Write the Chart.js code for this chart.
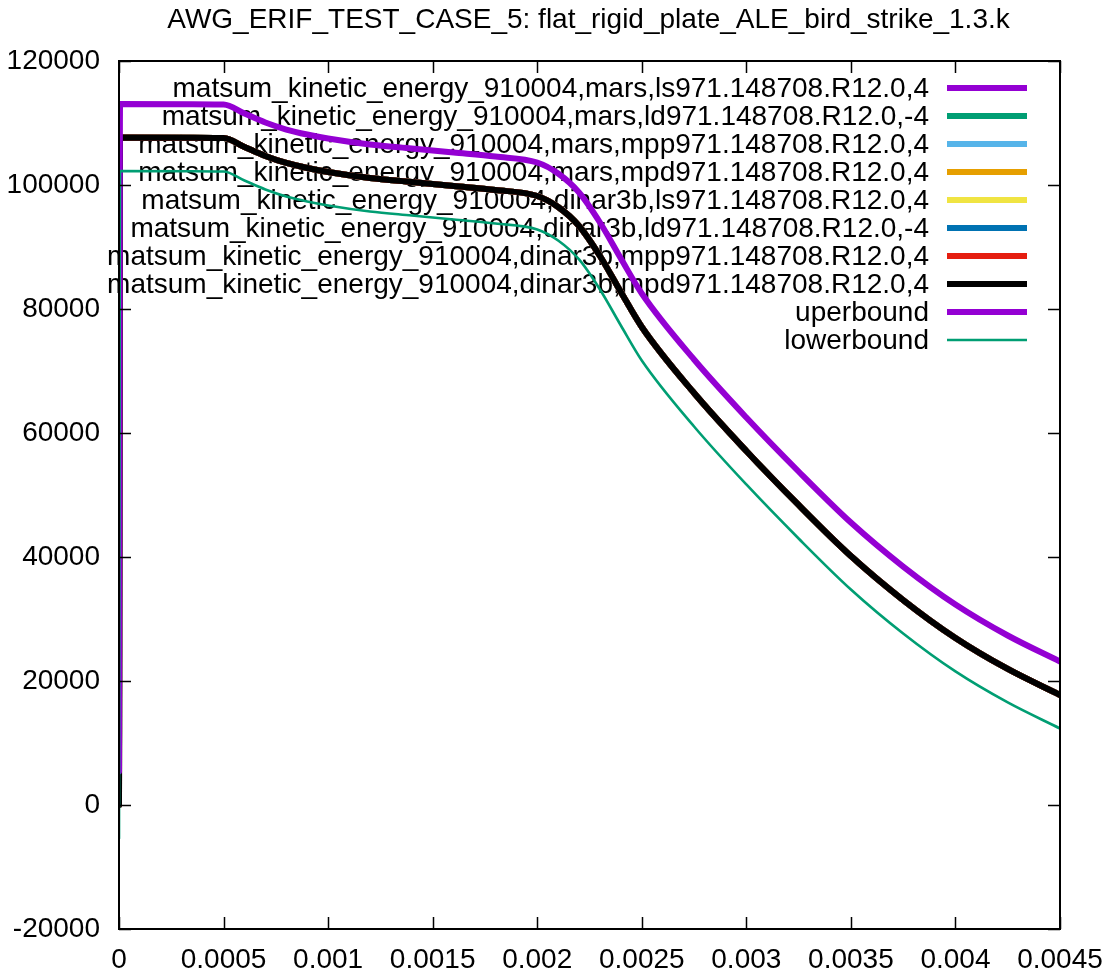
<!DOCTYPE html>
<html>
<head>
<meta charset="utf-8">
<style>
  html, body { margin: 0; padding: 0; background: #ffffff; }
  canvas { display: block; }
</style>
<script src="https://cdn.jsdelivr.net/npm/chart.js@4.4.1/dist/chart.umd.min.js"></script>
</head>
<body>
<canvas id="c" width="1114" height="972"></canvas>
<script>
// Kinetic energy history of the bird-strike run, with its tolerance band
const chartTitle = 'AWG_ERIF_TEST_CASE_5: flat_rigid_plate_ALE_bird_strike_1.3.k';

const time = [0, 0.000005, 0.0005, 0.0006, 0.0007, 0.0008, 0.0009, 0.001, 0.0012, 0.0014,
  0.0016, 0.0018, 0.002, 0.0021, 0.0022, 0.0023, 0.0024, 0.0025, 0.00275, 0.003,
  0.00325, 0.0035, 0.00375, 0.004, 0.00425, 0.0045];

const kineticEnergy = [0, 107660, 107580, 106130, 104680, 103550, 102740, 102100, 101130, 100480,
  99840, 99190, 98230, 96450, 93390, 88550, 82740, 77100, 66450, 57100,
  48390, 40160, 33060, 26940, 21940, 17740];

const upperBound = [5400, 113060, 112980, 111530, 110080, 108950, 108140, 107500, 106530, 105880,
  105240, 104590, 103630, 101850, 98790, 93950, 88140, 82500, 71850, 62500,
  53790, 45560, 38460, 32340, 27340, 23140];

const lowerBound = [-5400, 102260, 102180, 100730, 99280, 98150, 97340, 96700, 95730, 95080,
  94440, 93790, 92830, 91050, 87990, 83150, 77340, 71700, 61050, 51700,
  42990, 34760, 27660, 21540, 16540, 12340];

const seriesLabels = [
  'matsum_kinetic_energy_910004,mars,ls971.148708.R12.0,4',
  'matsum_kinetic_energy_910004,mars,ld971.148708.R12.0,-4',
  'matsum_kinetic_energy_910004,mars,mpp971.148708.R12.0,4',
  'matsum_kinetic_energy_910004,mars,mpd971.148708.R12.0,4',
  'matsum_kinetic_energy_910004,dinar3b,ls971.148708.R12.0,4',
  'matsum_kinetic_energy_910004,dinar3b,ld971.148708.R12.0,-4',
  'matsum_kinetic_energy_910004,dinar3b,mpp971.148708.R12.0,4',
  'matsum_kinetic_energy_910004,dinar3b,mpd971.148708.R12.0,4'
];
const seriesColors = ['#9400d3', '#009e73', '#56b4e9', '#e69f00', '#f0e442', '#0072b2', '#e51e10', '#000000'];
const boundLabels = ['uperbound', 'lowerbound'];
const boundColors = ['#9400d3', '#009e73'];

const xTicks = [0, 0.0005, 0.001, 0.0015, 0.002, 0.0025, 0.003, 0.0035, 0.004, 0.0045];
const xTickLabels = ['0', '0.0005', '0.001', '0.0015', '0.002', '0.0025', '0.003', '0.0035', '0.004', '0.0045'];
const yTicks = [-20000, 0, 20000, 40000, 60000, 80000, 100000, 120000];
const yTickLabels = ['-20000', '0', '20000', '40000', '60000', '80000', '100000', '120000'];

const FONT = '"Liberation Sans", Arial, Helvetica, sans-serif';
const FONT_SIZE = 28;
const THICK = 6;
const THIN = 2.6;

function toPoints(values) {
  return time.map((t, k) => ({ x: t, y: values[k] }));
}

const datasets = [];
seriesLabels.forEach((label, i) => {
  datasets.push({
    label: label,
    data: toPoints(kineticEnergy),
    borderColor: seriesColors[i],
    borderWidth: THICK,
    order: 20 - i
  });
});
datasets.push({ label: boundLabels[0], data: toPoints(upperBound), borderColor: boundColors[0], borderWidth: THICK, order: 20 - 8 });
datasets.push({ label: boundLabels[1], data: toPoints(lowerBound), borderColor: boundColors[1], borderWidth: THIN, order: 20 - 9 });

// gnuplot-style frame: key inside top right, boxed border with inward mirrored ticks, title
const frame = {
  id: 'frame',
  beforeDatasetsDraw(chart) {
    const ctx = chart.ctx;
    const area = chart.chartArea;
    ctx.save();
    ctx.font = FONT_SIZE + 'px ' + FONT;
    ctx.textAlign = 'right';
    ctx.textBaseline = 'middle';
    const textRight = area.right - 131;
    const sampleL = area.right - 113;
    const sampleR = area.right - 33;
    chart.data.datasets.forEach((ds, i) => {
      const y = area.top + 27 + i * 28;
      ctx.fillStyle = '#000000';
      ctx.fillText(ds.label, textRight, y + 1);
      ctx.strokeStyle = ds.borderColor;
      ctx.lineWidth = ds.borderWidth;
      ctx.lineCap = 'butt';
      ctx.beginPath();
      ctx.moveTo(sampleL, y);
      ctx.lineTo(sampleR, y);
      ctx.stroke();
    });
    ctx.restore();
  },
  afterDatasetsDraw(chart) {
    const ctx = chart.ctx;
    const a = chart.chartArea;
    const xs = chart.scales.x;
    const ys = chart.scales.y;
    const tick = 12;
    ctx.save();
    ctx.strokeStyle = '#000000';
    ctx.lineWidth = 1.5;
    ctx.beginPath();
    xTicks.forEach(v => {
      const px = Math.round(xs.getPixelForValue(v)) + 0.5;
      ctx.moveTo(px, a.bottom); ctx.lineTo(px, a.bottom - tick);
      ctx.moveTo(px, a.top); ctx.lineTo(px, a.top + tick);
    });
    yTicks.forEach(v => {
      const py = Math.round(ys.getPixelForValue(v)) + 0.5;
      ctx.moveTo(a.left, py); ctx.lineTo(a.left + tick, py);
      ctx.moveTo(a.right, py); ctx.lineTo(a.right - tick, py);
    });
    ctx.stroke();
    ctx.lineWidth = 2;
    ctx.strokeRect(a.left, a.top, a.right - a.left, a.bottom - a.top);
    ctx.restore();
  },
  afterDraw(chart) {
    const ctx = chart.ctx;
    const a = chart.chartArea;
    ctx.save();
    ctx.font = FONT_SIZE + 'px ' + FONT;
    ctx.fillStyle = '#000000';
    ctx.textAlign = 'center';
    ctx.textBaseline = 'alphabetic';
    ctx.fillText(chartTitle, (a.left + a.right) / 2 - 1, 28);
    ctx.restore();
  }
};

new Chart(document.getElementById('c'), {
  type: 'line',
  data: { datasets: datasets },
  options: {
    responsive: false,
    animation: false,
    devicePixelRatio: 1,
    layout: { padding: { top: 61, right: 54, left: 0, bottom: 0 } },
    elements: {
      point: { radius: 0 },
      line: { cubicInterpolationMode: 'monotone', borderJoinStyle: 'round', borderCapStyle: 'round' }
    },
    plugins: {
      legend: { display: false },
      tooltip: { enabled: false },
      title: { display: false }
    },
    scales: {
      x: {
        type: 'linear',
        min: 0,
        max: 0.0045,
        grid: { display: false, drawTicks: true, tickLength: 4 },
        border: { display: false },
        afterBuildTicks: s => { s.ticks = xTicks.map(v => ({ value: v })); },
        afterFit: s => { s.height = 43; },
        ticks: {
          autoSkip: false,
          maxRotation: 0,
          minRotation: 0,
          padding: 10,
          color: '#000000',
          font: { family: FONT, size: FONT_SIZE },
          callback: (v, i) => xTickLabels[i]
        }
      },
      y: {
        type: 'linear',
        min: -20000,
        max: 120000,
        grid: { display: false, drawTicks: false },
        border: { display: false },
        afterBuildTicks: s => { s.ticks = yTicks.map(v => ({ value: v })); },
        afterFit: s => { s.width = 119; },
        ticks: {
          autoSkip: false,
          padding: 19,
          color: '#000000',
          font: { family: FONT, size: FONT_SIZE },
          callback: (v, i) => yTickLabels[i]
        }
      }
    }
  },
  plugins: [frame]
});
</script>
</body>
</html>
